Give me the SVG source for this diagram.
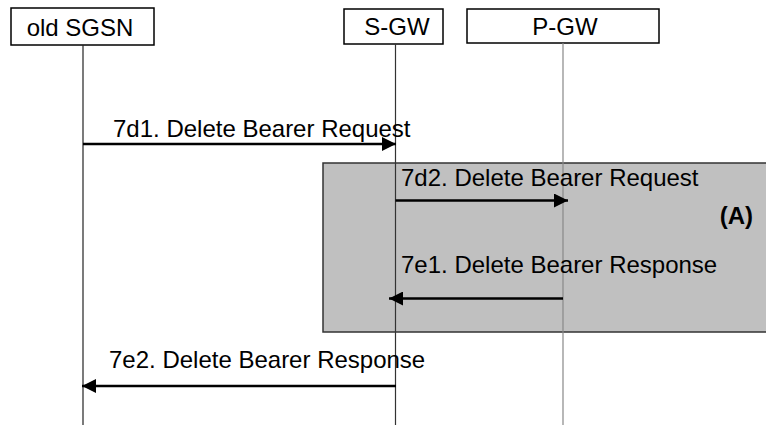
<svg xmlns="http://www.w3.org/2000/svg" width="766" height="425" viewBox="0 0 766 425">
<defs>
<style>
text{font-family:"Liberation Sans",Arial,sans-serif;font-size:24px;fill:#000}
.box{fill:#fff;stroke:#000;stroke-width:1.5}
.life{stroke-width:1.2;fill:none}
.msg{stroke:#000;stroke-width:2.5;fill:none}
</style>
<marker id="ah" viewBox="0 0 14 14" refX="14" refY="7" markerWidth="14" markerHeight="14" markerUnits="userSpaceOnUse" orient="auto">
<path d="M0,0 L14,7 L0,14 Z" fill="#000"/>
</marker>
</defs>
<rect id="regionA" x="323" y="163" width="460" height="169" fill="#c0c0c0" stroke="#333" stroke-width="1.5"/>
<g id="oldSGSN">
<rect class="box" x="11" y="8" width="143" height="37"/>
<text x="80" y="36" text-anchor="middle">old SGSN</text>
<line class="life" x1="83" y1="45" x2="83" y2="425" stroke="#222"/>
</g>
<g id="SGW">
<rect class="box" x="344" y="9" width="99" height="35"/>
<text x="397" y="35" text-anchor="middle">S-GW</text>
<line class="life" x1="395.5" y1="44" x2="395.5" y2="425" stroke="#333"/>
</g>
<g id="PGW">
<rect class="box" x="467" y="9" width="192" height="34"/>
<text x="565" y="35" text-anchor="middle">P-GW</text>
<line class="life" x1="563" y1="43" x2="563" y2="425" stroke="#888"/>
</g>
<g id="labelA">
<text x="753" y="224" text-anchor="end" font-weight="bold">(A)</text>
</g>
<g id="connectors">
<line class="msg" x1="83" y1="144" x2="396" y2="144" marker-end="url(#ah)"/>
<text x="113" y="137">7d1. Delete Bearer Request</text>
<line class="msg" x1="395.5" y1="200.5" x2="568" y2="200.5" marker-end="url(#ah)"/>
<text x="401" y="186">7d2. Delete Bearer Request</text>
<line class="msg" x1="563" y1="298.5" x2="389" y2="298.5" marker-end="url(#ah)"/>
<text x="401" y="273">7e1. Delete Bearer Response</text>
<line class="msg" x1="396" y1="386" x2="82" y2="386" marker-end="url(#ah)"/>
<text x="109" y="368">7e2. Delete Bearer Response</text>
</g>
</svg>
